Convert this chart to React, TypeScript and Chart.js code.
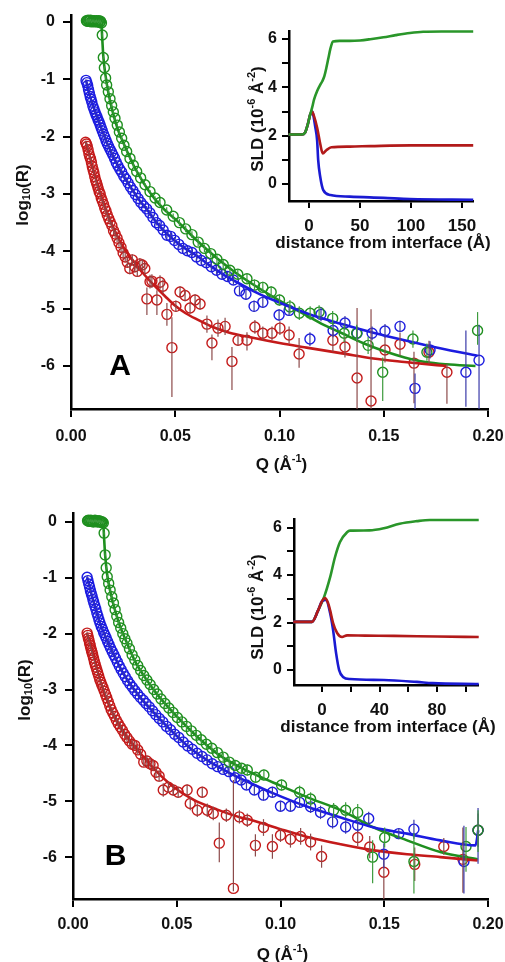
import React, { useEffect, useRef } from 'react';
import { Chart, registerables } from 'chart.js';
Chart.register(...registerables);

const FONT = "'Liberation Sans', Arimo, Arial, Helvetica, sans-serif";
Chart.defaults.font.family = FONT;
Chart.defaults.color = '#111';

// ---------------- colours ----------------
const GREEN = '#1f8f1f';
const BLUE = '#1c1ce0';
const RED = '#c41a1a';
const GREEN_ERR = '#3d9b3d';
const BLUE_ERR = '#3a3aa8';
const RED_ERR = '#8c4a4a';
const GREEN_PROF = '#2a962a';
const BLUE_PROF = '#1a1ad2';
const RED_PROF = '#b21a1a';

// ---------------- Panel A : reflectivity data ----------------
const qAG = [0.0074,0.0078,0.0082,0.0086,0.0090,0.0094,0.0098,0.0102,0.0106,0.0110,0.0114,0.0118,0.0122,0.0126,0.0130,0.0134,0.0138,0.0142,0.0146,
  0.0150,0.0155,0.0160,0.0166,0.0171,0.0179,0.0187,0.0195,0.0203,0.0211,0.0222,0.0232,0.0243,0.0254,0.0267,0.0283,0.0299,0.0315,0.0334,0.0355,0.0379,0.0403,
  0.0427,0.0459,0.0490,0.0520,0.0550,0.0580,0.0610,0.0640,0.0670,0.0700,0.0730,0.0762,0.0800,0.0844,0.0880,0.0920,0.0960,0.1000,
  0.1050,0.1095,0.1147,0.1190,0.1255,0.1310,0.1370,0.1425,0.1495,0.1640,0.1707,0.1950];
const rAG = [0.02,0.01,0.03,0.01,0.02,0.03,0.0,0.02,0.01,0.02,0.0,0.01,0.02,0.0,0.01,0.02,-0.01,0.01,-0.02,
  -0.23,-0.62,-0.80,-0.98,-1.10,-1.22,-1.34,-1.46,-1.57,-1.68,-1.80,-1.92,-2.03,-2.15,-2.26,-2.38,-2.50,-2.61,-2.72,-2.84,-2.96,-3.07,
  -3.15,-3.28,-3.39,-3.50,-3.61,-3.71,-3.84,-3.95,-4.04,-4.14,-4.23,-4.33,-4.40,-4.48,-4.59,-4.63,-4.71,-4.85,
  -4.97,-5.08,-5.08,-5.06,-5.17,-5.43,-5.43,-5.64,-6.11,-5.53,-5.76,-5.38];
const upAG = [0.02,0.02,0.02,0.02,0.02,0.02,0.02,0.02,0.02,0.02,0.02,0.02,0.02,0.02,0.02,0.02,0.02,0.02,0.02,
  0.03,0.03,0.03,0.03,0.03,0.03,0.03,0.03,0.03,0.03,0.03,0.03,0.03,0.03,0.03,0.03,0.03,0.03,0.03,0.03,0.03,0.03,
  0.05,0.05,0.05,0.06,0.06,0.06,0.07,0.07,0.07,0.08,0.08,0.08,0.09,0.09,0.10,0.10,0.10,0.10,
  0.12,0.12,0.12,0.12,0.13,0.15,0.15,0.15,0.26,0.15,0.15,0.32];
const dnAG = [0.02,0.02,0.02,0.02,0.02,0.02,0.02,0.02,0.02,0.02,0.02,0.02,0.02,0.02,0.02,0.02,0.02,0.02,0.02,
  0.03,0.03,0.03,0.03,0.03,0.03,0.03,0.03,0.03,0.03,0.03,0.03,0.03,0.03,0.03,0.03,0.03,0.03,0.03,0.03,0.03,0.03,
  0.05,0.05,0.05,0.06,0.06,0.06,0.07,0.07,0.07,0.08,0.08,0.08,0.09,0.09,0.10,0.10,0.10,0.10,
  0.12,0.12,0.12,0.12,0.13,0.15,0.15,0.15,0.50,0.15,0.15,0.25];

const qAB = [0.0072,0.0076,0.0080,0.0084,0.0088,0.0092,0.0096,0.0100,0.0105,0.0110,
  0.0115,0.0120,0.0125,0.0130,0.0135,0.0140,0.0145,0.0150,0.0156,0.0162,
  0.0168,0.0174,0.0180,0.0187,0.0194,0.0201,0.0209,0.0217,0.0225,0.0234,
  0.0243,0.0253,0.0263,0.0274,0.0285,0.0297,0.0309,0.0322,0.0335,0.0349,
  0.0363,0.0378,0.0393,0.0409,0.0425,0.0442,0.0460,0.0478,0.0497,0.0517,
  0.0537,0.0558,0.0580,0.0602,0.0625,0.0649,0.0673,0.0698,0.0724,0.0751,
  0.0779,0.0808,0.0839,0.0878,0.0920,0.0998,0.1046,0.1146,0.1199,0.1257,
  0.1314,0.1372,0.1444,0.1506,0.1578,0.1650,0.1722,0.1894,0.1957];
const rAB = [-1.02,-1.06,-1.11,-1.18,-1.24,-1.30,-1.35,-1.40,-1.47,-1.52,
  -1.57,-1.62,-1.66,-1.71,-1.75,-1.80,-1.85,-1.90,-1.96,-2.01,
  -2.07,-2.12,-2.17,-2.22,-2.27,-2.32,-2.38,-2.45,-2.51,-2.57,
  -2.62,-2.69,-2.74,-2.81,-2.88,-2.94,-3.01,-3.08,-3.15,-3.21,
  -3.26,-3.33,-3.41,-3.50,-3.55,-3.63,-3.72,-3.74,-3.81,-3.88,
  -3.95,-3.99,-4.02,-4.10,-4.16,-4.20,-4.27,-4.33,-4.40,-4.44,
  -4.50,-4.69,-4.75,-4.96,-4.89,-5.11,-5.03,-5.53,-5.10,-5.38,
  -5.25,-5.43,-5.43,-5.39,-5.31,-6.39,-5.72,-6.11,-5.90];
const upAB = [0.02,0.02,0.02,0.02,0.02,0.02,0.02,0.02,0.02,0.02,
  0.02,0.02,0.02,0.02,0.02,0.02,0.02,0.02,0.03,0.03,
  0.03,0.03,0.03,0.03,0.03,0.03,0.03,0.03,0.03,0.03,
  0.04,0.04,0.04,0.04,0.04,0.04,0.04,0.04,0.04,0.04,
  0.05,0.05,0.05,0.05,0.05,0.05,0.06,0.06,0.06,0.06,
  0.06,0.06,0.07,0.07,0.07,0.07,0.07,0.08,0.08,0.08,
  0.08,0.08,0.10,0.10,0.10,0.10,0.10,0.12,0.12,0.12,
  0.12,0.12,0.12,0.12,0.10,0.26,0.15,0.73,0.62];
const dnAB = [0.02,0.02,0.02,0.02,0.02,0.02,0.02,0.02,0.02,0.02,
  0.02,0.02,0.02,0.02,0.02,0.02,0.02,0.02,0.03,0.03,
  0.03,0.03,0.03,0.03,0.03,0.03,0.03,0.03,0.03,0.03,
  0.04,0.04,0.04,0.04,0.04,0.04,0.04,0.04,0.04,0.04,
  0.05,0.05,0.05,0.05,0.05,0.05,0.06,0.06,0.06,0.06,
  0.06,0.06,0.07,0.07,0.07,0.07,0.07,0.08,0.08,0.08,
  0.08,0.08,0.10,0.10,0.10,0.10,0.10,0.12,0.12,0.12,
  0.12,0.12,0.12,0.12,0.10,0.40,0.15,0.60,0.90];

const qAR = [0.0070,0.0074,0.0078,0.0082,0.0086,0.0090,0.0094,0.0098,0.0102,0.0106,
  0.0110,0.0114,0.0118,0.0122,0.0126,0.0130,0.0135,0.0140,0.0145,0.0150,
  0.0156,0.0162,0.0168,0.0174,0.0181,0.0188,0.0196,0.0204,0.0212,0.0221,
  0.0230,0.0240,0.0250,0.0260,0.0270,0.0282,0.0294,0.0306,0.0318,0.0330,
  0.0342,0.0354,0.0364,0.0379,0.0388,0.0412,0.0427,0.0441,0.0460,0.0484,
  0.0503,0.0523,0.0547,0.0571,0.0595,0.0619,0.0652,0.0676,0.0705,0.0739,
  0.0772,0.0801,0.0844,0.0882,0.0920,0.0964,0.1002,0.1046,0.1094,0.1256,
  0.1314,0.1372,0.1439,0.1506,0.1578,0.1645,0.1717,0.1803];
const rAR = [-2.10,-2.13,-2.17,-2.23,-2.30,-2.35,-2.39,-2.45,-2.52,-2.58,
  -2.63,-2.70,-2.76,-2.80,-2.85,-2.90,-2.96,-3.00,-3.07,-3.12,
  -3.18,-3.25,-3.30,-3.37,-3.43,-3.49,-3.55,-3.64,-3.70,-3.77,
  -3.85,-3.93,-4.03,-4.10,-4.19,-4.30,-4.15,-4.27,-4.35,-4.22,
  -4.24,-4.30,-4.83,-4.53,-4.52,-4.85,-4.54,-4.61,-5.10,-5.68,
  -4.96,-4.71,-4.77,-4.99,-4.85,-4.92,-5.27,-5.60,-5.34,-5.31,
  -5.92,-5.55,-5.55,-5.32,-5.43,-5.43,-5.34,-5.46,-5.79,-5.55,
  -5.67,-6.21,-6.61,-5.72,-5.62,-5.95,-5.76,-6.11];
const upAR = [0.03,0.03,0.03,0.03,0.03,0.03,0.03,0.03,0.03,0.03,
  0.03,0.03,0.03,0.03,0.03,0.03,0.03,0.03,0.03,0.03,
  0.05,0.05,0.05,0.05,0.06,0.06,0.06,0.06,0.07,0.07,
  0.07,0.08,0.08,0.08,0.09,0.10,0.10,0.10,0.10,0.10,
  0.10,0.10,0.20,0.12,0.12,0.17,0.12,0.12,0.20,0.53,
  0.10,0.10,0.10,0.10,0.10,0.10,0.15,0.15,0.15,0.15,
  0.25,0.10,0.14,0.12,0.12,0.12,0.12,0.15,0.28,0.20,
  0.18,1.22,1.60,0.22,0.20,0.20,0.20,0.15];
const dnAR = [0.03,0.03,0.03,0.03,0.03,0.03,0.03,0.03,0.03,0.03,
  0.03,0.03,0.03,0.03,0.03,0.03,0.03,0.03,0.03,0.03,
  0.05,0.05,0.05,0.05,0.06,0.06,0.06,0.06,0.07,0.07,
  0.07,0.08,0.08,0.08,0.09,0.10,0.10,0.10,0.10,0.10,
  0.10,0.10,0.28,0.12,0.12,0.26,0.12,0.12,0.20,0.86,
  0.10,0.10,0.10,0.10,0.10,0.10,0.15,0.30,0.15,0.15,
  0.50,0.10,0.18,0.12,0.12,0.12,0.12,0.15,0.24,0.20,
  0.18,0.60,0.30,0.22,0.20,0.70,0.20,0.55];

// Panel A fits
const fitQAG = [0.0074,0.0145,0.0150,0.0155,0.0165,0.018,0.020,0.0225,0.025,0.030,0.035,0.040,0.045,0.050,0.060,0.070,0.080,0.090,0.100,0.110,0.120,0.130,0.140,0.150,0.160,0.170,0.180,0.194];
const fitRAG = [0.02,0.0,-0.30,-0.60,-0.92,-1.25,-1.57,-1.88,-2.10,-2.50,-2.82,-3.08,-3.28,-3.44,-3.80,-4.12,-4.40,-4.64,-4.86,-5.06,-5.26,-5.43,-5.60,-5.74,-5.85,-5.93,-5.97,-6.00];
const fitQAB = [0.0072,0.009,0.0125,0.0173,0.0235,0.030,0.033,0.036,0.040,0.044,0.048,0.052,0.0556,0.060,0.0667,0.072,0.0796,0.089,0.097,0.113,0.129,0.145,0.161,0.177,0.195];
const fitRAB = [-1.02,-1.28,-1.65,-2.11,-2.58,-2.96,-3.12,-3.25,-3.45,-3.62,-3.76,-3.88,-3.97,-4.07,-4.25,-4.38,-4.54,-4.72,-4.85,-5.08,-5.26,-5.42,-5.56,-5.69,-5.82];
const fitQAR = [0.007,0.009,0.011,0.013,0.015,0.017,0.019,0.021,0.023,0.025,0.028,0.031,0.035,0.040,0.045,0.050,0.055,0.060,0.068,0.076,0.086,0.100,0.113,0.130,0.145,0.160,0.177,0.180];
const fitRAR = [-2.08,-2.35,-2.62,-2.87,-3.10,-3.30,-3.48,-3.64,-3.79,-3.92,-4.08,-4.22,-4.40,-4.60,-4.78,-4.95,-5.08,-5.18,-5.32,-5.42,-5.50,-5.60,-5.68,-5.78,-5.87,-5.93,-5.99,-6.00];

// ---------------- Panel B : reflectivity data ----------------
const qBG = [0.0070,0.0074,0.0078,0.0082,0.0086,0.0090,0.0094,0.0098,0.0102,0.0106,0.0110,0.0114,0.0118,0.0122,0.0126,0.0130,0.0134,0.0138,0.0142,0.0146,
  0.0150,0.0155,0.0160,0.0165,0.0172,0.0179,0.0187,0.0195,0.0203,0.0211,0.0220,0.0230,0.0240,0.0250,0.0260,0.0272,0.0285,0.0298,0.0312,0.0326,
  0.0341,0.0356,0.0372,0.0389,0.0406,0.0424,0.0443,0.0462,0.0482,0.0503,0.0525,0.0547,0.0570,0.0594,0.0618,0.0643,0.0669,0.0696,0.0724,0.0753,0.0782,0.0812,0.0840,0.0880,0.0920,
  0.1005,0.1092,0.1145,0.1256,0.1314,0.1372,0.1444,0.1502,0.1643,0.1894,0.1952];
const rBG = [0.02,0.03,0.01,0.02,0.03,0.01,0.02,0.0,0.02,0.03,0.01,0.02,0.0,0.01,0.02,0.0,0.01,-0.01,0.0,-0.02,
  -0.20,-0.59,-0.82,-0.98,-1.10,-1.22,-1.34,-1.45,-1.57,-1.69,-1.80,-1.90,-2.00,-2.09,-2.17,-2.27,-2.38,-2.47,-2.57,-2.66,
  -2.75,-2.83,-2.91,-3.00,-3.08,-3.17,-3.25,-3.33,-3.41,-3.50,-3.58,-3.66,-3.74,-3.82,-3.90,-3.98,-4.05,-4.13,-4.21,-4.30,-4.36,-4.41,-4.44,-4.57,-4.53,
  -4.71,-4.84,-4.96,-5.16,-5.16,-5.20,-6.00,-5.65,-6.08,-5.81,-5.52];
const upBG = [0.02,0.02,0.02,0.02,0.02,0.02,0.02,0.02,0.02,0.02,0.02,0.02,0.02,0.02,0.02,0.02,0.02,0.02,0.02,0.02,
  0.03,0.03,0.03,0.03,0.03,0.03,0.03,0.03,0.03,0.03,0.03,0.03,0.03,0.03,0.03,0.03,0.03,0.03,0.03,0.03,
  0.04,0.04,0.04,0.05,0.05,0.05,0.05,0.06,0.06,0.06,0.06,0.07,0.07,0.07,0.07,0.08,0.08,0.08,0.08,0.09,0.09,0.09,0.10,0.10,0.10,
  0.10,0.12,0.12,0.13,0.14,0.15,0.30,0.18,0.51,0.35,0.36];
const dnBG = [0.02,0.02,0.02,0.02,0.02,0.02,0.02,0.02,0.02,0.02,0.02,0.02,0.02,0.02,0.02,0.02,0.02,0.02,0.02,0.02,
  0.03,0.03,0.03,0.03,0.03,0.03,0.03,0.03,0.03,0.03,0.03,0.03,0.03,0.03,0.03,0.03,0.03,0.03,0.03,0.03,
  0.04,0.04,0.04,0.05,0.05,0.05,0.05,0.06,0.06,0.06,0.06,0.07,0.07,0.07,0.07,0.08,0.08,0.08,0.08,0.09,0.09,0.09,0.10,0.10,0.10,
  0.10,0.12,0.12,0.13,0.14,0.15,0.47,0.18,0.57,0.45,0.39];

const qBB = [0.0068,0.0072,0.0076,0.0080,0.0084,0.0088,0.0092,0.0096,0.0100,0.0105,
  0.0110,0.0115,0.0120,0.0125,0.0130,0.0136,0.0142,0.0148,0.0154,0.0160,
  0.0167,0.0174,0.0181,0.0189,0.0197,0.0205,0.0214,0.0223,0.0232,0.0242,
  0.0252,0.0263,0.0274,0.0286,0.0298,0.0311,0.0324,0.0338,0.0352,0.0367,
  0.0383,0.0399,0.0416,0.0433,0.0451,0.0470,0.0490,0.0510,0.0531,0.0553,
  0.0575,0.0598,0.0622,0.0646,0.0671,0.0697,0.0724,0.0752,0.0781,0.0810,
  0.0836,0.0874,0.0918,0.0961,0.1000,0.1048,0.1092,0.1145,0.1193,0.1251,
  0.1314,0.1372,0.1425,0.1498,0.1570,0.1643,0.1884,0.1952];
const rBB = [-0.99,-1.05,-1.11,-1.17,-1.23,-1.28,-1.33,-1.39,-1.44,-1.50,
  -1.56,-1.63,-1.69,-1.75,-1.81,-1.87,-1.92,-1.98,-2.03,-2.08,
  -2.14,-2.20,-2.26,-2.32,-2.38,-2.44,-2.51,-2.58,-2.64,-2.71,
  -2.77,-2.84,-2.90,-2.96,-3.02,-3.08,-3.14,-3.19,-3.25,-3.31,
  -3.38,-3.45,-3.52,-3.58,-3.66,-3.72,-3.80,-3.86,-3.94,-4.01,
  -4.07,-4.14,-4.20,-4.26,-4.33,-4.38,-4.43,-4.47,-4.58,-4.62,
  -4.71,-4.80,-4.89,-4.84,-5.09,-5.09,-5.02,-5.10,-5.20,-5.37,
  -5.46,-5.43,-5.31,-5.95,-5.58,-5.50,-6.08,-5.52];
const upBB = [0.02,0.02,0.02,0.02,0.02,0.02,0.02,0.02,0.02,0.02,
  0.02,0.02,0.02,0.02,0.02,0.02,0.02,0.02,0.03,0.03,
  0.03,0.03,0.03,0.03,0.03,0.03,0.03,0.03,0.03,0.03,
  0.04,0.04,0.04,0.04,0.04,0.04,0.04,0.04,0.04,0.04,
  0.05,0.05,0.05,0.05,0.05,0.05,0.06,0.06,0.06,0.06,
  0.06,0.06,0.07,0.07,0.07,0.07,0.07,0.08,0.08,0.08,
  0.08,0.09,0.10,0.10,0.10,0.10,0.10,0.11,0.12,0.12,
  0.12,0.12,0.12,0.20,0.10,0.17,0.64,0.40];
const dnBB = [0.02,0.02,0.02,0.02,0.02,0.02,0.02,0.02,0.02,0.02,
  0.02,0.02,0.02,0.02,0.02,0.02,0.02,0.02,0.03,0.03,
  0.03,0.03,0.03,0.03,0.03,0.03,0.03,0.03,0.03,0.03,
  0.04,0.04,0.04,0.04,0.04,0.04,0.04,0.04,0.04,0.04,
  0.05,0.05,0.05,0.05,0.05,0.05,0.06,0.06,0.06,0.06,
  0.06,0.06,0.07,0.07,0.07,0.07,0.07,0.08,0.08,0.08,
  0.08,0.09,0.10,0.10,0.10,0.10,0.10,0.11,0.12,0.12,
  0.12,0.12,0.12,0.25,0.10,0.17,0.57,0.60];

const qBR = [0.0068,0.0071,0.0074,0.0077,0.0080,0.0083,0.0086,0.0089,0.0092,0.0095,
  0.0099,0.0103,0.0107,0.0111,0.0115,0.0119,0.0124,0.0129,0.0134,0.0139,
  0.0145,0.0151,0.0157,0.0163,0.0170,0.0177,0.0184,0.0192,0.0200,0.0209,
  0.0218,0.0228,0.0238,0.0249,0.0260,0.0272,0.0285,0.0298,0.0312,0.0326,
  0.0341,0.0356,0.0371,0.0386,0.0400,0.0415,0.0435,0.0460,0.0483,0.0507,
  0.0550,0.0565,0.0599,0.0623,0.0647,0.0676,0.0705,0.0739,0.0773,0.0802,
  0.0840,0.0879,0.0918,0.0961,0.1000,0.1048,0.1097,0.1145,0.1198,0.1372,
  0.1430,0.1498,0.1647,0.1787,0.1879,0.1952];
const rBR = [-1.99,-2.03,-2.08,-2.12,-2.17,-2.21,-2.26,-2.30,-2.34,-2.38,
  -2.44,-2.50,-2.55,-2.60,-2.65,-2.70,-2.76,-2.82,-2.87,-2.92,
  -2.97,-3.03,-3.09,-3.15,-3.22,-3.29,-3.36,-3.42,-3.48,-3.55,
  -3.61,-3.67,-3.73,-3.80,-3.86,-3.92,-3.98,-4.00,-4.08,-4.16,
  -4.30,-4.28,-4.33,-4.36,-4.48,-4.55,-4.80,-4.75,-4.80,-4.84,
  -4.80,-5.04,-5.16,-4.84,-5.16,-5.22,-5.75,-5.25,-6.56,-5.28,
  -5.34,-5.79,-5.47,-5.81,-5.61,-5.68,-5.63,-5.73,-5.99,-5.65,
  -5.82,-6.27,-6.13,-5.81,-6.04,-5.52];
const upBR = [0.03,0.03,0.03,0.03,0.03,0.03,0.03,0.03,0.03,0.03,
  0.03,0.03,0.03,0.03,0.03,0.03,0.03,0.03,0.03,0.03,
  0.04,0.04,0.04,0.05,0.05,0.05,0.05,0.06,0.06,0.06,
  0.06,0.07,0.07,0.07,0.07,0.08,0.08,0.08,0.08,0.08,
  0.08,0.10,0.10,0.10,0.10,0.10,0.12,0.10,0.10,0.10,
  0.10,0.12,0.12,0.10,0.12,0.12,0.37,0.12,1.94,0.12,
  0.12,0.20,0.15,0.22,0.12,0.15,0.15,0.15,0.20,0.15,
  0.20,0.35,0.30,0.15,0.57,0.30];
const dnBR = [0.03,0.03,0.03,0.03,0.03,0.03,0.03,0.03,0.03,0.03,
  0.03,0.03,0.03,0.03,0.03,0.03,0.03,0.03,0.03,0.03,
  0.04,0.04,0.04,0.05,0.05,0.05,0.05,0.06,0.06,0.06,
  0.06,0.07,0.07,0.07,0.07,0.08,0.08,0.08,0.08,0.08,
  0.08,0.10,0.10,0.10,0.10,0.10,0.12,0.10,0.10,0.10,
  0.10,0.12,0.12,0.10,0.12,0.12,0.34,0.12,0.05,0.12,
  0.12,0.20,0.15,0.22,0.12,0.15,0.15,0.15,0.20,0.15,
  0.20,0.60,0.30,0.15,0.60,0.30];

// Panel B fits
const fitQBG = [0.0070,0.0145,0.0150,0.0155,0.0165,0.018,0.020,0.0225,0.025,0.030,0.035,0.040,0.045,0.050,0.060,0.070,0.080,0.090,0.100,0.113,0.129,0.145,0.161,0.177,0.195];
const fitRBG = [0.02,0.0,-0.30,-0.60,-0.95,-1.25,-1.55,-1.85,-2.08,-2.50,-2.80,-3.06,-3.28,-3.48,-3.85,-4.16,-4.38,-4.56,-4.72,-4.93,-5.16,-5.47,-5.70,-5.91,-6.04];
const fitQBB = [0.0068,0.0097,0.013,0.0179,0.0242,0.0324,0.0386,0.0469,0.0565,0.0662,0.0758,0.087,0.0966,0.113,0.129,0.145,0.161,0.177,0.194,0.1953];
const fitRBB = [-0.99,-1.40,-1.81,-2.24,-2.71,-3.14,-3.40,-3.72,-4.05,-4.30,-4.50,-4.70,-4.86,-5.10,-5.29,-5.47,-5.58,-5.70,-5.79,-5.52];
const fitQBR = [0.0068,0.0097,0.013,0.0179,0.0242,0.0324,0.0406,0.0483,0.058,0.0696,0.0807,0.0855,0.100,0.113,0.129,0.145,0.161,0.177,0.195];
const fitRBR = [-2.00,-2.35,-2.83,-3.33,-3.75,-4.14,-4.48,-4.74,-4.97,-5.15,-5.29,-5.33,-5.50,-5.64,-5.77,-5.88,-5.95,-6.00,-6.06];

// ---------------- Insets: SLD profiles ----------------
const zAG = [-20,-7,-4,-1,1,3,5,8,11,13,15,17,19,21,23.5,30,40,50,60,73,85,99,112,130,161];
const sAG = [2.05,2.05,2.12,2.5,2.85,3.15,3.5,3.85,4.1,4.25,4.45,4.8,5.2,5.6,5.9,5.92,5.92,5.94,5.99,6.07,6.16,6.25,6.3,6.31,6.31];
const zAR = [-20,-7,-4,-1,1,3,5,8,11,13.5,17,22,40,60,100,161];
const sAR = [2.05,2.05,2.12,2.5,2.85,3.0,2.8,2.33,1.67,1.27,1.4,1.52,1.55,1.57,1.6,1.6];
const zAB = [-20,-7,-4,-1,1,3,4,6,8,9,11,14,21,40,73,99,161];
const sAB = [2.05,2.05,2.12,2.5,2.85,3.0,2.9,2.4,1.8,1.0,0.3,-0.25,-0.45,-0.52,-0.57,-0.62,-0.65];

const zBG = [-20,-7,-2.8,1.4,5.6,9,12.5,17.4,19.5,33,43,54,66,75,109];
const sBG = [2.03,2.03,2.5,3.07,3.9,4.75,5.39,5.8,5.87,5.88,5.97,6.16,6.27,6.32,6.32];
const zBR = [-20,-7,-2.8,0,2,4,5.6,7.7,10.5,13.9,17.4,30,50,80,109];
const sBR = [2.03,2.03,2.5,2.9,3.03,2.85,2.52,1.98,1.56,1.39,1.46,1.45,1.44,1.41,1.39];
const zBB = [-20,-7,-2.8,0,2.8,5.6,7.7,9.8,11.9,14.6,19.5,43,66,77,109];
const sBB = [2.03,2.03,2.5,2.9,2.95,2.4,1.68,0.7,0.0,-0.29,-0.38,-0.42,-0.5,-0.55,-0.59];

// panel letters (placed in data coordinates)
const LABEL_A = { text: 'A', q: 0.0235, l: -6.02 };
const LABEL_B = { text: 'B', q: 0.0205, l: -6.0 };

// ---------------- helpers ----------------
type Part = { t: string; s?: 'sup' | 'sub' };

function rich(ctx: CanvasRenderingContext2D, parts: Part[], cx: number, cy: number, size: number, rot: number) {
  ctx.save();
  ctx.translate(cx, cy);
  ctx.rotate(rot);
  const base = `bold ${size}px ${FONT}`;
  const small = `bold ${Math.round(size * 0.65)}px ${FONT}`;
  let w = 0;
  for (const p of parts) {
    ctx.font = p.s ? small : base;
    w += ctx.measureText(p.t).width;
  }
  let x = -w / 2;
  ctx.textAlign = 'left';
  ctx.textBaseline = 'middle';
  ctx.fillStyle = '#111';
  for (const p of parts) {
    ctx.font = p.s ? small : base;
    const dy = p.s === 'sup' ? -size * 0.36 : p.s === 'sub' ? size * 0.22 : 0;
    ctx.fillText(p.t, x, dy);
    x += ctx.measureText(p.t).width;
  }
  ctx.restore();
}

const errorBars = {
  id: 'errorBars',
  afterDatasetsDraw(chart: any) {
    const { ctx, chartArea: a, scales } = chart;
    const xs = scales.x, ys = scales.y;
    ctx.save();
    ctx.beginPath();
    ctx.rect(a.left, a.top, a.right - a.left, a.bottom - a.top);
    ctx.clip();
    chart.data.datasets.forEach((ds: any) => {
      if (!ds.errUp) return;
      ctx.strokeStyle = ds.errColor;
      ctx.lineWidth = 1.2;
      ds.data.forEach((p: any, j: number) => {
        const px = xs.getPixelForValue(p.x);
        ctx.beginPath();
        ctx.moveTo(px, ys.getPixelForValue(p.y + ds.errUp[j]));
        ctx.lineTo(px, ys.getPixelForValue(p.y - ds.errDn[j]));
        ctx.stroke();
      });
    });
    ctx.restore();
  },
};

const toXY = (xs: number[], ys: number[]) => xs.map((x, i) => ({ x, y: ys[i] }));

function pointSet(q: number[], l: number[], up: number[], dn: number[], color: string, errColor: string, order: number) {
  return {
    data: toXY(q, l), showLine: false, pointRadius: 5, pointHoverRadius: 5, pointBorderWidth: 1.4,
    pointBackgroundColor: 'rgba(0,0,0,0)', pointBorderColor: color, borderColor: color, backgroundColor: 'rgba(0,0,0,0)',
    errUp: up, errDn: dn, errColor, order, clip: 10,
  };
}

function lineSet(q: number[], l: number[], color: string, width: number, order: number) {
  return {
    data: toXY(q, l), showLine: true, pointRadius: 0, pointHoverRadius: 0, borderColor: color,
    backgroundColor: color, borderWidth: width, cubicInterpolationMode: 'monotone', order, clip: 4,
  };
}

const tickGrid = (len: number) => ({
  display: true, drawOnChartArea: false, drawTicks: true, tickLength: len,
  tickWidth: 2, tickColor: '#000', lineWidth: 2, color: '#000',
});
const axisBorder = { display: true, color: '#000', width: 2.5 };

type MainCfg = {
  datasets: any[]; padTop: number; yW: number; xH: number; xPad: number; yMax: number;
  label: { text: string; q: number; l: number }; yTitleShift: number;
};

function makeMain(canvas: HTMLCanvasElement, c: MainCfg) {
  const texts = {
    id: 'texts',
    afterDraw(chart: any) {
      const { ctx, chartArea: a, scales } = chart;
      rich(ctx, [{ t: 'log' }, { t: '10', s: 'sub' }, { t: '(R)' }], a.left - 48, (a.top + a.bottom) / 2 + c.yTitleShift, 17, -Math.PI / 2);
      rich(ctx, [{ t: 'Q (Å' }, { t: '-1', s: 'sup' }, { t: ')' }], (a.left + a.right) / 2 + 2, a.bottom + 56, 17, 0);
      ctx.save();
      ctx.font = `bold 30px ${FONT}`;
      ctx.fillStyle = '#000';
      ctx.textAlign = 'center';
      ctx.textBaseline = 'middle';
      ctx.fillText(c.label.text, scales.x.getPixelForValue(c.label.q), scales.y.getPixelForValue(c.label.l));
      ctx.restore();
    },
  };
  return new Chart(canvas, {
    type: 'scatter',
    data: { datasets: c.datasets },
    options: {
      animation: false, responsive: false, events: [],
      layout: { padding: { left: 0, right: 17, top: c.padTop, bottom: 0 } },
      plugins: { legend: { display: false }, tooltip: { enabled: false } },
      scales: {
        x: {
          type: 'linear', min: 0, max: 0.2,
          ticks: { stepSize: 0.05, includeBounds: false, autoSkip: false, maxRotation: 0, padding: c.xPad,
            font: { size: 16, weight: 'bold' }, color: '#111', callback: (v: any) => Number(v).toFixed(2) },
          grid: tickGrid(8), border: axisBorder,
          afterFit: (s: any) => { s.height = c.xH; s.paddingLeft = 0; s.paddingRight = 0; },
        },
        y: {
          type: 'linear', min: -6.75, max: c.yMax,
          ticks: { stepSize: 1, includeBounds: false, autoSkip: false, padding: 8,
            font: { size: 16, weight: 'bold' }, color: '#111', callback: (v: any) => String(v) },
          grid: tickGrid(8), border: axisBorder,
          afterFit: (s: any) => { s.width = c.yW; s.paddingTop = 0; s.paddingBottom = 0; },
        },
      },
    } as any,
    plugins: [errorBars, texts],
  });
}

type InsetCfg = {
  datasets: any[]; padTop: number; padRight: number; yW: number; xH: number;
  xMin: number; xMax: number; xStep: number; xLabelEvery: number; yMin: number; yMax: number;
  yTitleDx: number; yTitleShift: number;
};

function makeInset(canvas: HTMLCanvasElement, c: InsetCfg) {
  const texts = {
    id: 'texts',
    afterDraw(chart: any) {
      const { ctx, chartArea: a } = chart;
      rich(ctx, [{ t: 'SLD (10' }, { t: '-6', s: 'sup' }, { t: ' Å' }, { t: '-2', s: 'sup' }, { t: ')' }],
        a.left - c.yTitleDx, (a.top + a.bottom) / 2 + c.yTitleShift, 17, -Math.PI / 2);
      rich(ctx, [{ t: 'distance from interface (Å)' }], (a.left + a.right) / 2 + 2, a.bottom + 42, 17, 0);
    },
  };
  return new Chart(canvas, {
    type: 'scatter',
    data: { datasets: c.datasets },
    options: {
      animation: false, responsive: false, events: [],
      layout: { padding: { left: 0, right: c.padRight, top: c.padTop, bottom: 0 } },
      plugins: { legend: { display: false }, tooltip: { enabled: false } },
      scales: {
        x: {
          type: 'linear', min: c.xMin, max: c.xMax,
          ticks: { stepSize: c.xStep, includeBounds: false, autoSkip: false, maxRotation: 0, padding: 8,
            font: { size: 17, weight: 'bold' }, color: '#111',
            callback: (v: any) => (Number(v) % c.xLabelEvery === 0 ? String(v) : '') },
          grid: tickGrid(7), border: axisBorder,
          afterFit: (s: any) => { s.height = c.xH; s.paddingLeft = 0; s.paddingRight = 0; },
        },
        y: {
          type: 'linear', min: c.yMin, max: c.yMax,
          ticks: { stepSize: 1, includeBounds: false, autoSkip: false, padding: 5,
            font: { size: 16, weight: 'bold' }, color: '#111',
            callback: (v: any) => (Number(v) % 2 === 0 ? String(v) : '') },
          grid: tickGrid(7), border: axisBorder,
          afterFit: (s: any) => { s.width = c.yW; s.paddingTop = 0; s.paddingBottom = 0; },
        },
      },
    } as any,
    plugins: [texts],
  });
}

export default function App() {
  const mainA = useRef<HTMLCanvasElement>(null);
  const mainB = useRef<HTMLCanvasElement>(null);
  const insetA = useRef<HTMLCanvasElement>(null);
  const insetB = useRef<HTMLCanvasElement>(null);

  useEffect(() => {
    const charts: Chart[] = [];
    charts.push(makeMain(mainA.current!, {
      datasets: [
        lineSet(fitQAR, fitRAR, RED, 2.6, 0),
        lineSet(fitQAB, fitRAB, BLUE, 2.6, 0),
        lineSet(fitQAG, fitRAG, GREEN, 2.6, 0),
        pointSet(qAR, rAR, upAR, dnAR, RED, RED_ERR, 3),
        pointSet(qAB, rAB, upAB, dnAB, BLUE, BLUE_ERR, 2),
        pointSet(qAG, rAG, upAG, dnAG, GREEN, GREEN_ERR, 1),
      ],
      padTop: 15, yW: 71, xH: 71, xPad: 10, yMax: 0.12, label: LABEL_A, yTitleShift: -17,
    }));
    charts.push(makeMain(mainB.current!, {
      datasets: [
        lineSet(fitQBR, fitRBR, RED, 2.6, 0),
        lineSet(fitQBB, fitRBB, BLUE, 2.6, 0),
        lineSet(fitQBG, fitRBG, GREEN, 2.6, 0),
        pointSet(qBR, rBR, upBR, dnBR, RED, RED_ERR, 3),
        pointSet(qBB, rBB, upBB, dnBB, BLUE, BLUE_ERR, 2),
        pointSet(qBG, rBG, upBG, dnBG, GREEN, GREEN_ERR, 1),
      ],
      padTop: 33, yW: 73, xH: 63, xPad: 8, yMax: 0.16, label: LABEL_B, yTitleShift: -16,
    }));
    charts.push(makeInset(insetA.current!, {
      datasets: [
        lineSet(zAG, sAG, GREEN_PROF, 2.6, 0),
        lineSet(zAR, sAR, RED_PROF, 2.6, 1),
        lineSet(zAB, sAB, BLUE_PROF, 2.6, 2),
      ],
      padTop: 11, padRight: 17, yW: 49, xH: 64,
      xMin: -19.6, xMax: 160.8, xStep: 50, xLabelEvery: 50, yMin: -0.7, yMax: 6.33,
      yTitleDx: 31, yTitleShift: 3,
    }));
    charts.push(makeInset(insetB.current!, {
      datasets: [
        lineSet(zBR, sBR, RED_PROF, 2.6, 0),
        lineSet(zBB, sBB, BLUE_PROF, 2.6, 1),
        lineSet(zBG, sBG, GREEN_PROF, 2.6, 2),
      ],
      padTop: 14, padRight: 27, yW: 54, xH: 65,
      xMin: -19.5, xMax: 108.5, xStep: 20, xLabelEvery: 40, yMin: -0.63, yMax: 6.36,
      yTitleDx: 36, yTitleShift: 5,
    }));
    return () => charts.forEach((ch) => ch.destroy());
  }, []);

  const abs = (left: number, top: number, width: number, height: number): React.CSSProperties => ({
    position: 'absolute', left, top, width, height,
  });

  return (
    <div style={{ position: 'absolute', left: 0, top: 0, width: 505, height: 962, overflow: 'hidden', background: '#fff' }}>
      <canvas ref={mainA} width={505} height={480} style={abs(0, 0, 505, 480)} />
      <canvas ref={mainB} width={505} height={482} style={abs(0, 480, 505, 482)} />
      <canvas ref={insetA} width={250} height={245} style={abs(240, 20, 250, 245)} />
      <canvas ref={insetB} width={265} height={245} style={abs(240, 505, 265, 245)} />
    </div>
  );
}
